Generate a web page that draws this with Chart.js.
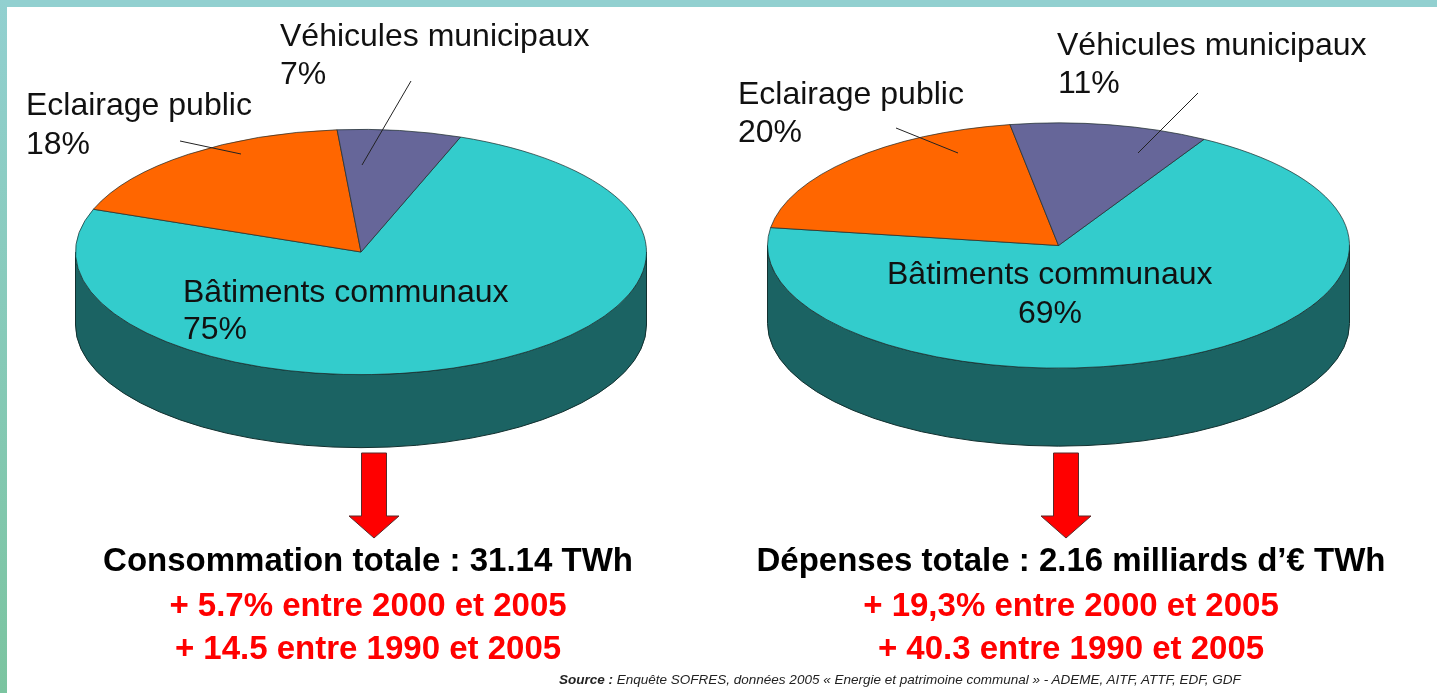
<!DOCTYPE html>
<html lang="fr">
<head>
<meta charset="utf-8">
<title>Consommation et dépenses d'énergie des communes</title>
<script src="https://cdn.jsdelivr.net/npm/chart.js@4"></script>
<style>
    html, body { margin: 0; padding: 0; width: 1437px; height: 693px; overflow: hidden; background: #fff; }
    body { font-family: "Liberation Sans", Arial, sans-serif; position: relative; }
    #bandTop { position: absolute; left: 0; top: 0; width: 1437px; height: 7px; background: #92d0d0; }
    #bandLeft { position: absolute; left: 0; top: 0; width: 7px; height: 693px; background: linear-gradient(#92d0d0, #7bc4a0); }
    .wrap { position: absolute; }
    .wrap canvas { display: block; }
    #overlay { position: absolute; left: 0; top: 0; }
    .t { position: absolute; white-space: nowrap; transform: translateY(-50%); line-height: 1; }
    .label { font-size: 32px; color: #111; }
    .total { font-size: 33px; font-weight: bold; color: #000; }
    .evol { font-size: 33px; font-weight: bold; color: #f00; }
    .c { transform: translate(-50%, -50%); }
    #source { font-size: 13.5px; font-style: italic; color: #222; }
</style>
</head>
<body>
<div id="bandTop"></div>
<div id="bandLeft"></div>
<div class="wrap" id="wrapConso"><canvas id="pieConso"></canvas></div>
<div class="wrap" id="wrapDepenses"><canvas id="pieDepenses"></canvas></div>
<svg id="overlay" width="1437" height="693" xmlns="http://www.w3.org/2000/svg"></svg>
<script>
var categories = ['Bâtiments communaux', 'Eclairage public', 'Véhicules municipaux'];
var consoValues = [75, 18, 7];
var depensesValues = [69, 20, 11];
var sliceColors = ['#33cccc', '#ff6600', '#666699'];

var totals = ['Consommation totale : 31.14 TWh', 'Dépenses totale : 2.16 milliards d’€ TWh'];
var evolConso = ['+ 5.7% entre 2000 et 2005', '+ 14.5 entre 1990 et 2005'];
var evolDepenses = ['+ 19,3% entre 2000 et 2005', '+ 40.3 entre 1990 et 2005'];
var sourceText = '<b>Source :</b> Enquête SOFRES, données 2005 « Energie et patrimoine communal » - ADEME, AITF, ATTF, EDF, GDF';

// la "3D" : on ecrase le camembert en ellipse et on dessine le flanc dessous
var pie3d = {
    id: 'pie3d',
    beforeDatasetsDraw: function(chart, args, opts) {
        var ctx = chart.ctx;
        var arc = chart.getDatasetMeta(0).data[0];
        var rx = arc.outerRadius, ry = rx * opts.squash;
        var cx = arc.x, cy = arc.y;
        ctx.save();
        ctx.beginPath();
        ctx.ellipse(cx, cy, rx, ry, 0, Math.PI, 0, true);
        ctx.lineTo(cx + rx, cy + opts.depth);
        ctx.ellipse(cx, cy + opts.depth, rx, ry, 0, 0, Math.PI, false);
        ctx.closePath();
        ctx.fillStyle = opts.side;
        ctx.fill();
        ctx.lineWidth = 1;
        ctx.strokeStyle = '#12302f';
        ctx.stroke();
        ctx.restore();
        ctx.save();
        ctx.translate(cx, cy);
        ctx.scale(1, opts.squash);
        ctx.translate(-cx, -cy);
    },
    afterDatasetsDraw: function(chart) {
        chart.ctx.restore();
    }
};

function makePie(id, wrapId, values, rotation, cx, cy, radius, depth) {
    var size = radius * 2 + 4;
    var wrap = document.getElementById(wrapId);
    wrap.style.left = (cx - size / 2) + 'px';
    wrap.style.top = (cy - size / 2) + 'px';
    wrap.style.width = size + 'px';
    wrap.style.height = size + 'px';
    return new Chart(document.getElementById(id).getContext('2d'), {
        type: 'pie',
        data: {
            labels: categories,
            datasets: [{
                data: values,
                backgroundColor: sliceColors,
                borderColor: '#1c2b2b',
                borderWidth: 1
            }]
        },
        options: {
            responsive: true,
            maintainAspectRatio: false,
            animation: false,
            rotation: rotation,
            plugins: {
                legend: { display: false },
                tooltip: { enabled: false },
                pie3d: { squash: 122 / radius, depth: depth, side: '#1b6363' }
            }
        },
        plugins: [pie3d]
    });
}

makePie('pieConso', 'wrapConso', consoValues, 20.4, 361, 252, 284, 73);
makePie('pieDepenses', 'wrapDepenses', depensesValues, 30, 1058.5, 245, 289.5, 78);

function addText(cls, html, x, y) {
    var d = document.createElement('div');
    d.className = 't ' + cls;
    d.innerHTML = html;
    d.style.left = x + 'px';
    d.style.top = y + 'px';
    document.body.appendChild(d);
    return d;
}

// libelles gauche
addText('label', categories[2], 280, 35);
addText('label', consoValues[2] + '%', 280, 73);
addText('label', categories[1], 26, 104);
addText('label', consoValues[1] + '%', 26, 143);
addText('label', categories[0], 183, 291);
addText('label', consoValues[0] + '%', 183, 328);
// libelles droite
addText('label', categories[2], 1057, 44);
addText('label', depensesValues[2] + '%', 1058, 82);
addText('label', categories[1], 738, 93);
addText('label', depensesValues[1] + '%', 738, 131);
addText('label', categories[0], 887, 273);
addText('label c', depensesValues[0] + '%', 1050, 312);

addText('total c', totals[0], 368, 559);
addText('evol c', evolConso[0], 368, 604);
addText('evol c', evolConso[1], 368, 647);
addText('total c', totals[1], 1071, 559);
addText('evol c', evolDepenses[0], 1071, 604);
addText('evol c', evolDepenses[1], 1071, 647);
addText('', sourceText, 559, 680).id = 'source';

// traits de rappel et fleches
var overlay = document.getElementById('overlay');
function addLine(x1, y1, x2, y2) {
    var l = document.createElementNS('http://www.w3.org/2000/svg', 'line');
    l.setAttribute('x1', x1); l.setAttribute('y1', y1);
    l.setAttribute('x2', x2); l.setAttribute('y2', y2);
    l.setAttribute('stroke', '#222');
    l.setAttribute('stroke-width', '1');
    overlay.appendChild(l);
}
function addArrow(x) {
    var p = document.createElementNS('http://www.w3.org/2000/svg', 'polygon');
    p.setAttribute('points', [
        (x - 12.5) + ',453', (x + 12.5) + ',453', (x + 12.5) + ',516', (x + 25) + ',516',
        x + ',538', (x - 25) + ',516', (x - 12.5) + ',516'
    ].join(' '));
    p.setAttribute('fill', '#ff0000');
    p.setAttribute('stroke', '#5a2a2a');
    p.setAttribute('stroke-width', '1');
    overlay.appendChild(p);
}
addLine(411, 81, 362, 165);
addLine(180, 141, 241, 154);
addLine(1198, 93, 1138, 153);
addLine(896, 128, 958, 153);
addArrow(374);
addArrow(1066);
</script>
</body>
</html>
